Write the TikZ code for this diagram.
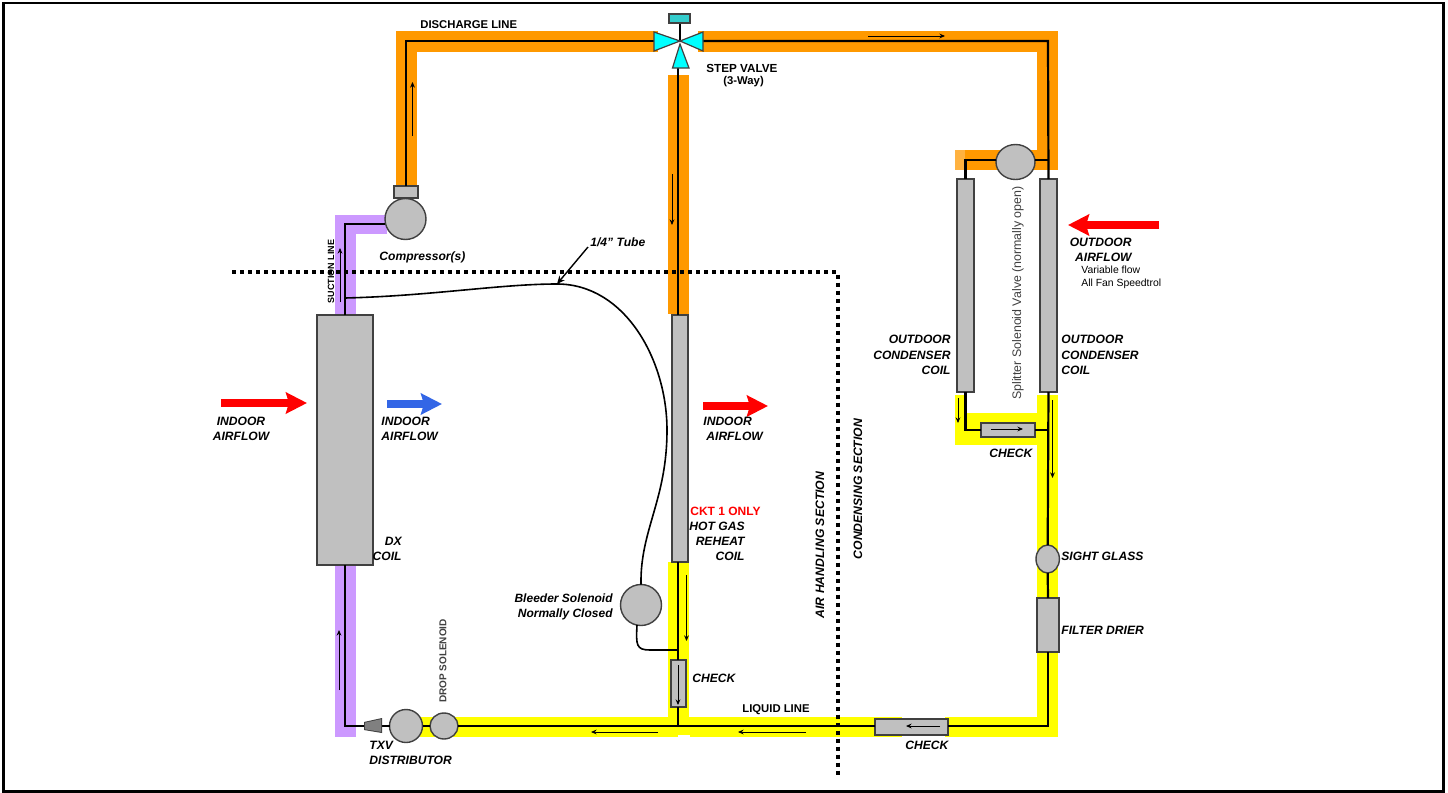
\documentclass[tikz,border=0pt]{standalone}
\usepackage{fontspec}
\setmainfont{Liberation Sans}
\usetikzlibrary{arrows.meta,shapes.geometric}
\definecolor{hotpipe}{HTML}{FF9900}
\definecolor{liquidpipe}{HTML}{FFFF00}
\definecolor{suctionpipe}{HTML}{CC99FF}
\definecolor{partgray}{HTML}{C0C0C0}
\definecolor{partedge}{HTML}{404040}
\definecolor{airblue}{HTML}{3366E6}
\definecolor{valvecyan}{HTML}{00FFFF}
\definecolor{valvecap}{HTML}{33CCCC}
\begin{document}
\begin{tikzpicture}[x=0.5pt,y=-0.5pt,line join=miter,>=stealth]
	\tikzset{
		pipe/.style={draw=black,line width=1.1pt},
		part/.style={draw=partedge,fill=partgray,line width=0.7pt,inner sep=0pt,outer sep=0pt},
		box/.style={part,rectangle},
		round/.style={part,circle},
		oval/.style={part,ellipse},
		valvepart/.style={draw=partedge,fill=valvecyan,line width=0.6pt},
		flow/.style={draw=black,line width=0.5pt,-{Stealth[length=2.8pt,width=2.4pt]}},
		air/.style={line width=3.6pt,-{Stealth[length=10.5pt,width=10.5pt,inset=1.5pt]}},
		lab/.style={inner sep=0pt,font=\fontsize{6.05}{7.6}\selectfont\bfseries\itshape},
		caps/.style={inner sep=0pt,font=\fontsize{5.65}{7}\selectfont\bfseries},
		thin label/.style={inner sep=0pt,font=\fontsize{5.2}{6.6}\selectfont}
	}
	\useasboundingbox (0,0) rectangle (1448,793);
	\fill[white] (0,0) rectangle (1448,793);
	\draw[line width=1.1pt] (3.5,3) rectangle (1443.5,791.5);

	\fill[suctionpipe] (335,215) rectangle (387,234);
	\fill[suctionpipe] (335,215) rectangle (356,315);
	\fill[suctionpipe] (335,565) rectangle (356,737);
	\fill[hotpipe] (396,31) rectangle (658,52);
	\fill[hotpipe] (396,31) rectangle (417,186);
	\fill[hotpipe] (698,31) rectangle (1058,52);
	\fill[hotpipe] (1037,31) rectangle (1058,170);
	\fill[hotpipe] (955,150) rectangle (1058,170);
	\fill[hotpipe!75!white] (955,150) rectangle (965,170);
	\fill[hotpipe] (668,75) rectangle (689,314);
	\fill[liquidpipe] (955,395) rectangle (966,445);
	\fill[liquidpipe] (955,413) rectangle (1058,445);
	\fill[liquidpipe] (1037,395) rectangle (1058,737);
	\fill[liquidpipe] (668,562) rectangle (689,735);
	\fill[liquidpipe] (420,717) rectangle (902,735);
	\fill[liquidpipe] (420,735) rectangle (678,737);
	\fill[liquidpipe] (690,735) rectangle (902,737);
	\fill[liquidpipe] (945,717) rectangle (1058,737);

	\node[box,minimum width=28pt,minimum height=125pt] (dx) at (345,440) {};
	\node[round,minimum size=20.5pt] (comp) at (405.5,219) {};
	\node[box,minimum width=12pt,minimum height=6pt] (compcap) at (406,192) {};
	\node[box,minimum width=8pt,minimum height=123.5pt] (reheat) at (680,438.5) {};
	\node[round,minimum size=20.5pt] (bleed) at (641,605) {};
	\node[box,minimum width=7.5pt,minimum height=23.5pt] (chkreheat) at (678.5,683.5) {};
	\node[round,minimum size=16.5pt] (txv) at (406,726) {};
	\node[oval,minimum width=14pt,minimum height=13pt] (drop) at (444,726) {};
	\node[box,minimum width=8.5pt,minimum height=106.5pt] (lcoil) at (965.5,285.5) {};
	\node[box,minimum width=8.5pt,minimum height=106.5pt] (rcoil) at (1048.5,285.5) {};
	\node[oval,minimum width=19.5pt,minimum height=17.5pt] (split) at (1015.5,162) {};
	\node[box,minimum width=27pt,minimum height=7pt] (chkcond) at (1008,430) {};
	\node[oval,minimum width=11.7pt,minimum height=14pt] (sight) at (1047.7,559) {};
	\node[box,minimum width=11pt,minimum height=27pt] (drier) at (1048,625) {};
	\node[box,minimum width=36.5pt,minimum height=8pt] (chkliq) at (911.5,727) {};

	\coordinate (suctop) at (345,224);
	\coordinate (tubetee) at (345,298);
	\coordinate (tubetop) at (557,284);
	\coordinate (discorner) at (406,41);
	\coordinate (stepleft) at (654,41);
	\coordinate (stepmid) at (680,41);
	\coordinate (stepright) at (703,41);
	\coordinate (stepout) at (678,68);
	\coordinate (stepstem) at (680,23);
	\coordinate (discright) at (1048,41);
	\coordinate (splitleft) at (965.5,160);
	\coordinate (condleft) at (965.5,430);
	\coordinate (condtee) at (1048,430);
	\coordinate (liqcorner) at (1048,726);
	\coordinate (liqtee) at (678,726);
	\coordinate (bleedtee) at (678,650);
	\coordinate (bleedout) at (637,625);
	\coordinate (disttip) at (364,726);
	\coordinate (distbase) at (382,726);
	\coordinate (distcorner) at (345,726);

	\draw[pipe] (dx.north) -- (suctop) -- (suctop -| comp.west);
	\draw[pipe] (compcap.north) -- (discorner) -- (stepleft);
	\draw[pipe] (stepright) -- (discright) -- (rcoil.north);
	\draw[pipe] (split.east |- splitleft) -- (splitleft -| rcoil);
	\draw[pipe] (split.west |- splitleft) -- (splitleft) -- (lcoil.north);
	\draw[pipe] (lcoil.south) -- (condleft) -- (chkcond.west);
	\draw[pipe] (chkcond.east) -- (condtee);
	\draw[pipe] (rcoil.south) -- (sight.north);
	\draw[pipe] (sight.south) -- (drier.north);
	\draw[pipe] (drier.south) -- (liqcorner) -- (liqcorner -| chkliq.east);
	\draw[pipe] (liqcorner -| chkliq.west) -- (drop.east);
	\draw[pipe] (drop.west) -- (txv.east);
	\draw[pipe] (txv.west) -- (distbase);
	\draw[pipe] (disttip) -- (distcorner) -- (dx.south);
	\draw[pipe] (stepout) -- (stepout |- reheat.north);
	\draw[pipe] (stepout |- reheat.south) -- (bleedtee) -- (bleedtee |- chkreheat.north);
	\draw[pipe] (bleedtee |- chkreheat.south) -- (liqtee);
	\draw[line width=0.8pt] (tubetee) .. controls (430,296) and (500,284) .. (tubetop) .. controls (625,284) and (667,360) .. (667,430) .. controls (667,500) and (640,530) .. (bleed.north);
	\draw[line width=0.8pt] (bleedout) .. controls (636,645) and (636,650) .. (650,650) -- (bleedtee);
	\draw[line width=0.7pt] (stepmid) -- (stepstem);

	\fill[partedge] (364,722) -- (382,718) -- (382,733) -- (364,730) -- cycle;
	\fill[gray] (365,722.7) -- (381,719.2) -- (381,731.8) -- (365,729.3) -- cycle;
	\filldraw[valvepart] (stepleft |- 0,32) -- (stepleft |- 0,51) -- (stepmid) -- cycle;
	\filldraw[valvepart] (stepright |- 0,32) -- (stepright |- 0,51) -- (stepmid) -- cycle;
	\filldraw[valvepart] (672.5,68) -- (689,68) -- (680,44) -- cycle;
	\node[draw=partedge,fill=valvecap,line width=0.6pt,inner sep=0pt,minimum width=10.5pt,minimum height=4.5pt] (stepcap) at (679.5,18.5) {};

	\coordinate (f1) at (412.5,136); \coordinate (f1e) at (412.5,82);
	\coordinate (f2) at (868,36); \coordinate (f2e) at (945,36);
	\coordinate (f3) at (672,174); \coordinate (f3e) at (672,225);
	\coordinate (f4) at (340,302); \coordinate (f4e) at (340,248);
	\coordinate (f5) at (339,690); \coordinate (f5e) at (339,630);
	\coordinate (f6) at (686.5,575); \coordinate (f6e) at (686.5,641);
	\coordinate (f7) at (678,665); \coordinate (f7e) at (678,705);
	\coordinate (f8) at (958,398); \coordinate (f8e) at (958,423);
	\coordinate (f9) at (991,429); \coordinate (f9e) at (1023,429);
	\coordinate (f10) at (1052.5,400); \coordinate (f10e) at (1052.5,478);
	\coordinate (f11) at (940,726); \coordinate (f11e) at (906,726);
	\coordinate (f12) at (806,732); \coordinate (f12e) at (738,732);
	\coordinate (f13) at (658,732); \coordinate (f13e) at (591,732);
	\draw[flow] (f1) -- (f1e);
	\draw[flow] (f2) -- (f2e);
	\draw[flow] (f3) -- (f3e);
	\draw[flow] (f4) -- (f4e);
	\draw[flow] (f5) -- (f5e);
	\draw[flow] (f6) -- (f6e);
	\draw[flow] (f7) -- (f7e);
	\draw[flow] (f8) -- (f8e);
	\draw[flow] (f9) -- (f9e);
	\draw[flow] (f10) -- (f10e);
	\draw[flow] (f11) -- (f11e);
	\draw[flow] (f12) -- (f12e);
	\draw[flow] (f13) -- (f13e);

	\coordinate (air1) at (221,403); \coordinate (air1e) at (307,403);
	\coordinate (air2) at (387,404); \coordinate (air2e) at (442,404);
	\coordinate (air3) at (703,406); \coordinate (air3e) at (768,406);
	\coordinate (air4) at (1159,225); \coordinate (air4e) at (1068,225);
	\draw[air,red] (air1) -- (air1e);
	\draw[air,airblue] (air2) -- (air2e);
	\draw[air,red] (air3) -- (air3e);
	\draw[air,red] (air4) -- (air4e);

	\draw[line width=2pt,dash pattern=on 2pt off 2pt] (232,272) -- (837.5,272) -- (837.5,778);

	\node[lab,anchor=west] (tubelabel) at (590,242) {1/4" Tube};
	\coordinate (tubetail) at (588,247);
	\draw[line width=0.7pt,-{Stealth[length=4pt,width=3.5pt]}] (tubetail) -- (tubetop);

	\node[caps,anchor=west] (discharge) at (420,25) {DISCHARGE LINE};
	\node[caps,anchor=west] (liquid) at (742,710) {LIQUID LINE};
	\node[caps,anchor=west,font=\fontsize{5.85}{7}\selectfont\bfseries] (step) at (706,68) {STEP VALVE};
	\node[caps,anchor=west] (stepway) at (723,82) {(3-Way)};
	\node[lab,anchor=west] (complabel) at (379,257) {Compressor(s)};
	\node[lab,align=center] (airin) at (241,429) {INDOOR\\AIRFLOW};
	\node[lab,anchor=west,align=left] (airout) at (381,429) {INDOOR\\AIRFLOW};
	\node[lab,anchor=west,align=left] (airreheat) at (703,429) {INDOOR\\\hspace*{1.5pt}AIRFLOW};
	\node[lab,anchor=east,align=right] (dxlabel) at (402,549) {DX\\COIL};
	\node[inner sep=0pt,anchor=west,red,font=\fontsize{6}{7.6}\selectfont\bfseries] (ckt) at (690,511) {CKT 1 ONLY};
	\node[lab,anchor=east,align=right] (hotgas) at (745,541.5) {HOT GAS\\REHEAT\\COIL};
	\node[lab,anchor=east,align=right,font=\fontsize{6}{7.6}\selectfont\bfseries\itshape] (bleedlabel) at (613,606.5) {Bleeder Solenoid\\Normally Closed};
	\node[lab,anchor=west] (chkreheatlabel) at (692,678) {CHECK};
	\node[lab,anchor=west,align=left] (txvlabel) at (369,752.5) {TXV\\DISTRIBUTOR};
	\node[caps,rotate=90,font=\fontsize{5}{6}\selectfont\bfseries,text=partedge] (droplabel) at (443,661) {DROP SOLENOID};
	\node[caps,rotate=90,font=\fontsize{4.5}{6}\selectfont\bfseries] (suclabel) at (331,271.5) {SUCTION LINE};
	\node[lab,rotate=90,font=\fontsize{6.1}{7}\selectfont\bfseries\itshape] (ahs) at (820,545) {AIR HANDLING SECTION};
	\node[lab,rotate=90,font=\fontsize{6.1}{7}\selectfont\bfseries\itshape] (cds) at (858,489) {CONDENSING SECTION};
	\node[thin label,rotate=90,font=\fontsize{6.2}{7}\selectfont,text=partedge] (splitlabel) at (1018,293) {Splitter Solenoid Valve (normally open)};
	\node[lab,anchor=east,align=right] (lcoillabel) at (951,355) {OUTDOOR\\CONDENSER\\COIL};
	\node[lab,anchor=west,align=left] (rcoillabel) at (1061,355) {OUTDOOR\\CONDENSER\\COIL};
	\node[lab,anchor=east,align=right] (airoutdoor) at (1132,249.5) {OUTDOOR\\AIRFLOW};
	\node[thin label,anchor=west,align=left] (fanlabel) at (1081,277.5) {Variable flow\\All Fan Speedtrol};
	\node[lab,anchor=west] (chkcondlabel) at (989,453) {CHECK};
	\node[lab,anchor=west] (chkliqlabel) at (905,745) {CHECK};
	\node[lab,anchor=west] (sightlabel) at (1061,556) {SIGHT GLASS};
	\node[lab,anchor=west] (drierlabel) at (1061,630) {FILTER DRIER};
\end{tikzpicture}
\end{document}
